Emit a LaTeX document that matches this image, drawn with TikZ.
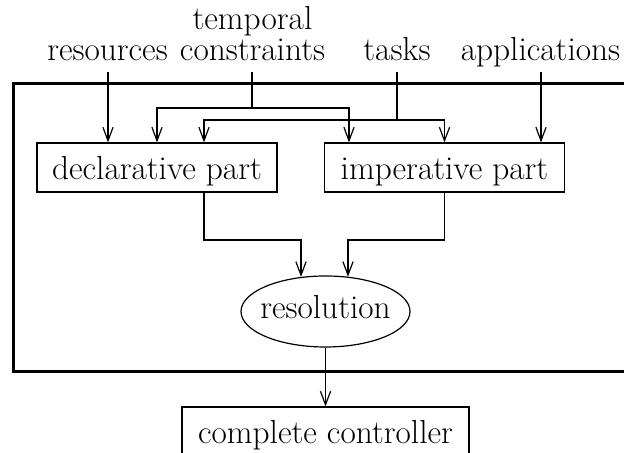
\documentclass[tikz,border=0pt]{standalone}
\usetikzlibrary{arrows.meta,shapes.geometric}
\newcommand{\bigtx}[1]{\scalebox{0.643}{\fontsize{17.28}{20}\selectfont #1}}
\begin{document}
\begin{tikzpicture}[x=0.33333pt,y=-0.33333pt,
  lab/.style={anchor=base, inner sep=0pt},
  part/.style={draw, line width=0.4pt, rectangle, inner sep=0pt, anchor=base,
    text height=12.33pt, text depth=4pt, minimum width=80pt},
  conn/.style={line width=0.4pt, -{Straight Barb[length=4.5pt,width=3.4pt]}},
  plain/.style={line width=0.4pt},
  frame/.style={line width=1pt}
]
\useasboundingbox (0,0) rectangle (624,453);

% outer frame
\draw[frame] (13,84) rectangle (640,372);

% top labels
\node[lab] (ltemp1) at (252.5,30) {\bigtx{temporal}};
\node[lab] (ltemp) at (252.5,61) {\bigtx{constraints}};
\node[lab] (lres) at (107.5,61) {\bigtx{resources}};
\node[lab] (ltask) at (397,61) {\bigtx{tasks}};
\node[lab] (lapp) at (540.5,61) {\bigtx{applications}};

% parts
\node[part] (dec) at (157,180) {\bigtx{declarative part}};
\node[part] (imp) at (444.5,180) {\bigtx{imperative part}};
\node[ellipse, draw, line width=0.4pt, inner sep=0pt, minimum width=56.33pt,
  minimum height=23.67pt, text height=6.94pt, text depth=2.6pt]
  (res) at (325.5,311.5) {\makebox[0pt]{\bigtx{resolution}}};
\node[part, minimum width=95.67pt] (ctl) at (325.5,444) {\bigtx{complete controller}};

% start points
\coordinate (r0) at (108,72);
\coordinate (t0) at (252,72);
\coordinate (k0) at (397,72);
\coordinate (a0) at (541,72);
\coordinate (tj) at (252,108);
\coordinate (kj) at (397,120);
\coordinate (dj) at (301,240);
\coordinate (ij) at (348,240);

% inputs
\draw[conn] (r0) -- (r0 |- dec.north);
\draw[conn] (a0) -- (a0 |- imp.north);
\draw[plain] (t0) -- (tj);
\draw[conn] (tj) -| (dec.north);
\draw[conn] (tj) -| (349,0 |- imp.north);
\draw[plain] (k0) -- (kj);
\draw[conn] (kj) -| (204,0 |- dec.north);
\draw[conn] (kj) -| (imp.north);

% outputs
\draw[conn] (dec.south -| 204,0) |- (dj) -- (dj |- res.125.8);
\draw[conn] (imp.south) |- (ij) -- (ij |- res.56.7);
\draw[conn] (res.south) -- (ctl.north);
\end{tikzpicture}
\end{document}
